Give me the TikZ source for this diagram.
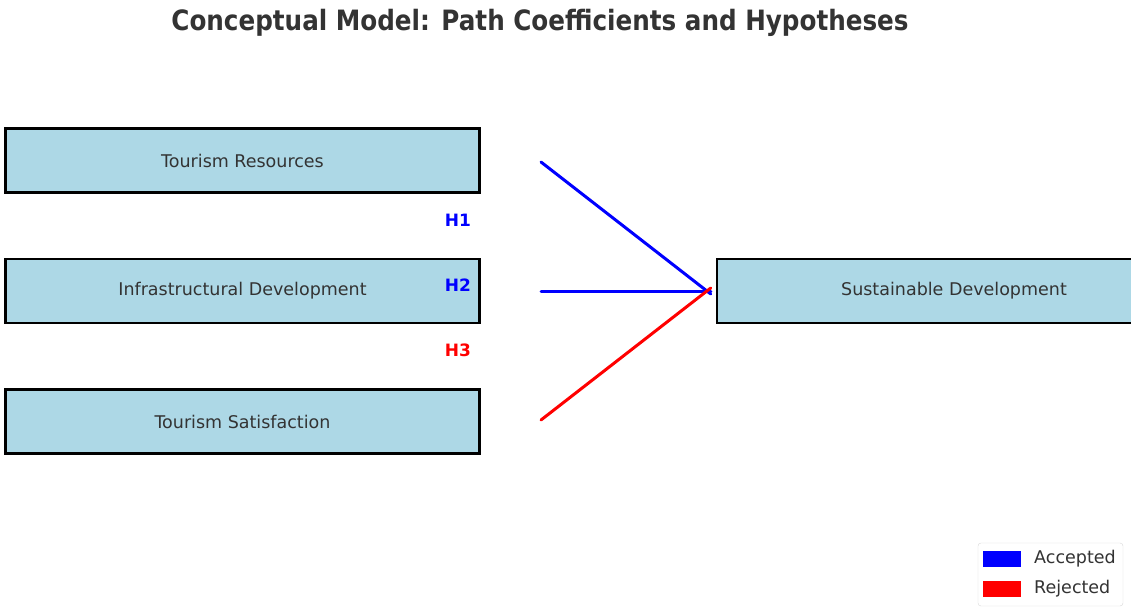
\documentclass[tikz,border=0pt]{standalone}
\usepackage{fontspec}
\setmainfont{DejaVu Sans}
\newfontfamily\titlefont[FakeStretch=0.88]{DejaVu Sans}
\definecolor{txtgray}{RGB}{51,51,51}
\definecolor{boxblue}{RGB}{173,216,230}

\tikzset{
  varbox/.style={draw=black, line width=2.5pt, fill=boxblue, minimum width=474pt,
    minimum height=64pt, inner sep=0pt, text=txtgray, font=\fontsize{17.5}{20}\selectfont},
  hlabel/.style={font=\bfseries\fontsize{17}{20}\selectfont},
  path/.style={line width=3pt, line cap=round},
  legtext/.style={anchor=west, text=txtgray, font=\fontsize{17.5}{20}\selectfont, inner sep=0pt},
}

\begin{document}
\begin{tikzpicture}[x=1pt,y=-1pt]

\clip (0,0) rectangle (1131,608);
\fill[white] (0,0) rectangle (1131,608);

% title
\node (title) at (540,30.5) [anchor=base, text=txtgray, font=\titlefont\bfseries\fontsize{28}{32}\selectfont] {Conceptual Model: Path Coefficients and Hypotheses};

% variables
\node[varbox] (tr) at (242.5,160.5) {Tourism Resources};
\node[varbox] (id) at (242.5,291) {Infrastructural Development};
\node[varbox] (ts) at (242.5,421.5) {Tourism Satisfaction};
\node[varbox] (sd) at (954,291) {Sustainable Development};

% free ends of the paths
\coordinate (p1) at (541,162);
\coordinate (p2) at (541,291);
\coordinate (p3) at (541,420);

\draw[path, blue] (p1) -- ([xshift=-5pt, yshift=-3pt]sd.west);
\draw[path, blue] (p2) -- ([xshift=-5pt]sd.west);
\draw[path, red] (p3) -- ([xshift=-5pt, yshift=3pt]sd.west);

\node[hlabel, text=blue] (h1) at (458,220) {H1};
\node[hlabel, text=blue] (h2) at (458,285) {H2};
\node[hlabel, text=red] (h3) at (458,350) {H3};

% legend
\draw[gray!30, fill=white, rounded corners=3pt] (978,543) rectangle (1123,606);
\fill[blue] (983,551) rectangle (1021,567);
\fill[red] (983,581) rectangle (1021,597);
\node[legtext] (acc) at (1034,559) {Accepted};
\node[legtext] (rej) at (1034,589) {Rejected};

\end{tikzpicture}
\end{document}
